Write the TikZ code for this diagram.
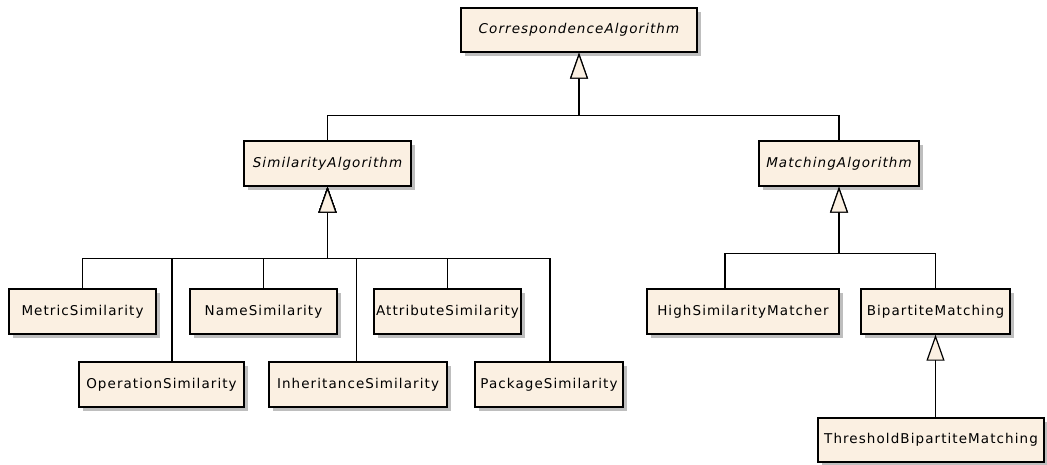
\documentclass[tikz,border=0pt]{standalone}
\usepackage{fontspec}
\setsansfont{DejaVu Sans}[LetterSpace=8]
\usetikzlibrary{arrows.meta,shadows,calc}
\definecolor{cream}{RGB}{251,240,226}
\definecolor{shade}{RGB}{190,190,190}
\begin{document}
\begin{tikzpicture}[x=1pt,y=-1pt,
  cls/.style={draw=black, line width=1.4pt, fill=cream, inner sep=0pt,
    minimum height=45pt, font=\sffamily\fontsize{13.5}{15}\selectfont,
    drop shadow={shadow xshift=4pt, shadow yshift=-4pt, fill=shade, opacity=1}},
  abs/.style={cls, font=\sffamily\itshape\fontsize{13.5}{15}\selectfont},
  gen/.style={draw=black, line width=1.4pt,
    -{Triangle[length=26pt, width=18pt, fill=cream, line width=1.2pt]}}
]
\useasboundingbox (0,0) rectangle (1047,464);
\node[abs, minimum width=236pt, minimum height=44pt] (corr) at (579,30) {CorrespondenceAlgorithm};
\node[abs, minimum width=167pt] (sim) at (327.5,163.5) {SimilarityAlgorithm};
\node[abs, minimum width=160pt] (match) at (839,163.5) {MatchingAlgorithm};
\node[cls, minimum width=147pt] (metric) at (82.5,311.5) {MetricSimilarity};
\node[cls, minimum width=147pt] (name) at (263.5,311.5) {NameSimilarity};
\node[cls, minimum width=147pt] (attr) at (447.5,311.5) {AttributeSimilarity};
\node[cls, minimum width=165pt] (oper) at (161.5,384.5) {OperationSimilarity};
\node[cls, minimum width=178pt] (inh) at (358,384.5) {InheritanceSimilarity};
\node[cls, minimum width=148pt] (pack) at (549,384.5) {PackageSimilarity};
\node[cls, minimum width=192pt] (high) at (743,311.5) {HighSimilarityMatcher};
\node[cls, minimum width=149pt] (bip) at (935.5,311.5) {BipartiteMatching};
\node[cls, minimum width=226pt, minimum height=44pt] (thr) at (931,440) {ThresholdBipartiteMatching};
% top level
\coordinate (b1) at ($(corr.south)+(0,63)$);
\draw[gen] (sim.north) |- (b1) -| (corr.south);
\draw[gen] (match.north) |- (b1) -| (corr.south);
% similarity
\coordinate (b2) at ($(sim.south)+(0,72)$);
\draw[gen] (metric.north) |- (b2) -| (sim.south);
\draw[gen] ([xshift=10.5pt]oper.north) |- (b2) -| (sim.south);
\draw[gen] (name.north) |- (b2) -| (sim.south);
\draw[gen] ([xshift=-1.5pt]inh.north) |- (b2) -| (sim.south);
\draw[gen] (attr.north) |- (b2) -| (sim.south);
\draw[gen] ([xshift=1pt]pack.north) |- (b2) -| (sim.south);
% matching
\coordinate (b3) at ($(match.south)+(0,67)$);
\draw[gen] ([xshift=-18pt]high.north) |- (b3) -| (match.south);
\draw[gen] (bip.north) |- (b3) -| (match.south);
% bipartite
\draw[gen] (thr.north -| bip.south) -- (bip.south);
\end{tikzpicture}
\end{document}
